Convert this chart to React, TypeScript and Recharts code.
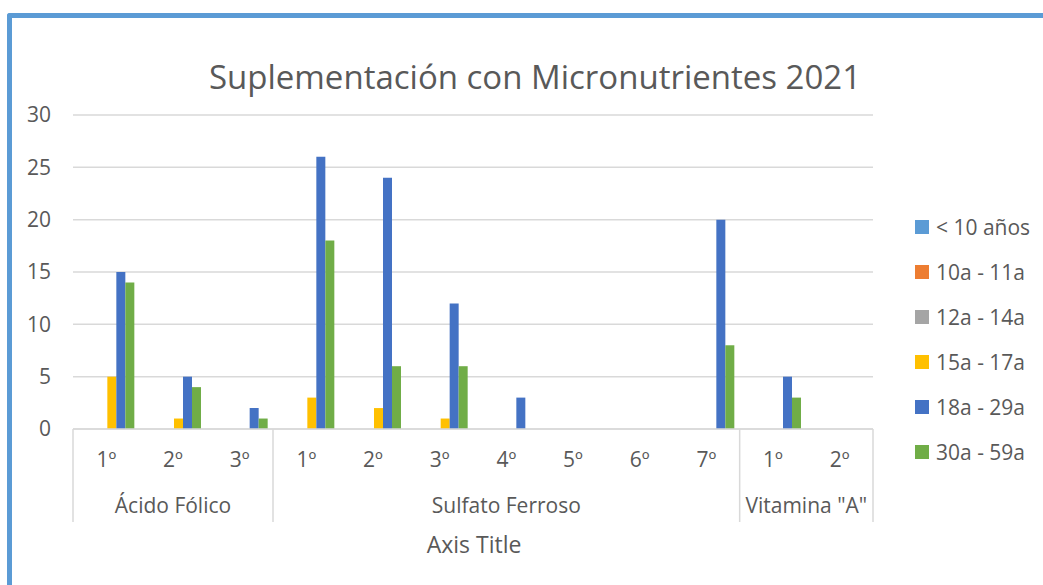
import { BarChart, Bar, XAxis, YAxis, CartesianGrid } from "recharts"

const groupNames = ["Ácido Fólico", "Sulfato Ferroso", 'Vitamina "A"']
const groupSizes = [3, 7, 2]
const ordinals = ["1º", "2º", "3º", "1º", "2º", "3º", "4º", "5º", "6º", "7º", "1º", "2º"]

const seriesNames = ["< 10 años", "10a - 11a", "12a - 14a", "15a - 17a", "18a - 29a", "30a - 59a"]
const under10 = [0, 0, 0, 0, 0, 0, 0, 0, 0, 0, 0, 0]
const age10to11 = [0, 0, 0, 0, 0, 0, 0, 0, 0, 0, 0, 0]
const age12to14 = [0, 0, 0, 0, 0, 0, 0, 0, 0, 0, 0, 0]
const age15to17 = [5, 1, 0, 3, 2, 1, 0, 0, 0, 0, 0, 0]
const age18to29 = [15, 5, 2, 26, 24, 12, 3, 0, 0, 20, 5, 0]
const age30to59 = [14, 4, 1, 18, 6, 6, 0, 0, 0, 8, 3, 0]
const yTicks = [0, 5, 10, 15, 20, 25, 30]

const COLORS = ["#5B9BD5", "#ED7D31", "#A5A5A5", "#FFC000", "#4472C4", "#70AD47"]
const allSeries = [under10, age10to11, age12to14, age15to17, age18to29, age30to59]

const data = ordinals.map((label, i) => {
  const row: Record<string, string | number> = { id: String(i), label }
  seriesNames.forEach((name, s) => {
    row[name] = allSeries[s][i]
  })
  return row
})

const FONT = "'Open Sans', sans-serif"
const TEXT = "#595959"
const GRID = "#D9D9D9"

const W = 1043
const H = 585
const X_AXIS_H = 30
const MARGIN = { top: 115, right: 170, bottom: 156 - X_AXIS_H, left: 23 }
const Y_AXIS_W = 50
const PLOT_W = W - MARGIN.left - Y_AXIS_W - MARGIN.right
const BAND = PLOT_W / ordinals.length

const groupStarts = groupSizes.map((_, g) => groupSizes.slice(0, g).reduce((a, b) => a + b, 0))

function GroupTick(props: any) {
  const { x, y, payload } = props
  const i = Number(payload.value)
  const g = groupStarts.findIndex((st, k) => i >= st && i < st + groupSizes[k])
  const isStart = groupStarts[g] === i
  const left = x - BAND / 2
  return (
    <g>
      <text x={x} y={y + 38} textAnchor="middle" fill={TEXT} fontSize={21} fontFamily={FONT}>
        {ordinals[i]}
      </text>
      {isStart && (
        <>
          <line x1={left} y1={y} x2={left} y2={y + 93} stroke={GRID} strokeWidth={1.5} />
          <text
            x={left + (groupSizes[g] * BAND) / 2}
            y={y + 84}
            textAnchor="middle"
            fill={TEXT}
            fontSize={21}
            fontFamily={FONT}
          >
            {groupNames[g]}
          </text>
        </>
      )}
      {i === ordinals.length - 1 && (
        <line x1={x + BAND / 2} y1={y} x2={x + BAND / 2} y2={y + 93} stroke={GRID} strokeWidth={1.5} />
      )}
    </g>
  )
}

export default function App() {
  return (
    <div style={{ position: "absolute", left: 0, top: 0, width: W, height: H, overflow: "hidden", background: "#fff" }}>
      <div
        style={{
          position: "absolute",
          left: 7,
          top: 13,
          width: W + 20,
          height: H + 20,
          borderTop: "5px solid #5B9BD5",
          borderLeft: "5px solid #5B9BD5",
          borderTopLeftRadius: 3,
        }}
      />
      <div
        style={{
          position: "absolute",
          left: 0,
          width: 1070,
          top: 54,
          textAlign: "center",
          fontFamily: FONT,
          fontSize: 33,
          color: TEXT,
          whiteSpace: "nowrap",
        }}
      >
        Suplementación con Micronutrientes 2021
      </div>
      <div style={{ position: "absolute", left: 0, top: 0 }}>
        <BarChart width={W} height={H} data={data} margin={MARGIN} barCategoryGap="11%" barGap={0}>
          <CartesianGrid vertical={false} stroke={GRID} strokeWidth={1.5} />
          <XAxis
            dataKey="id"
            height={X_AXIS_H}
            axisLine={{ stroke: GRID, strokeWidth: 1.5 }}
            tickLine={false}
            tickSize={0}
            tickMargin={0}
            interval={0}
            tick={<GroupTick />}
          />
          <YAxis
            width={Y_AXIS_W}
            domain={[0, 30]}
            ticks={yTicks}
            axisLine={false}
            tickLine={false}
            tickSize={0}
            tickMargin={22}
            tick={{ fill: TEXT, fontSize: 21, fontFamily: FONT }}
          />
          {seriesNames.map((name, s) => (
            <Bar key={name} dataKey={name} fill={COLORS[s]} isAnimationActive={false} />
          ))}
        </BarChart>
      </div>
      <div
        style={{
          position: "absolute",
          left: 0,
          width: W - 95,
          top: 528,
          textAlign: "center",
          fontFamily: FONT,
          fontSize: 23,
          color: TEXT,
        }}
      >
        Axis Title
      </div>
      <div style={{ position: "absolute", left: 915, top: 204, fontFamily: FONT, fontSize: 21, color: TEXT }}>
        {seriesNames.map((name, s) => (
          <div key={name} style={{ display: "flex", alignItems: "center", height: 45 }}>
            <span style={{ width: 14, height: 14, background: COLORS[s], marginRight: 7 }} />
            <span>{name}</span>
          </div>
        ))}
      </div>
    </div>
  )
}
